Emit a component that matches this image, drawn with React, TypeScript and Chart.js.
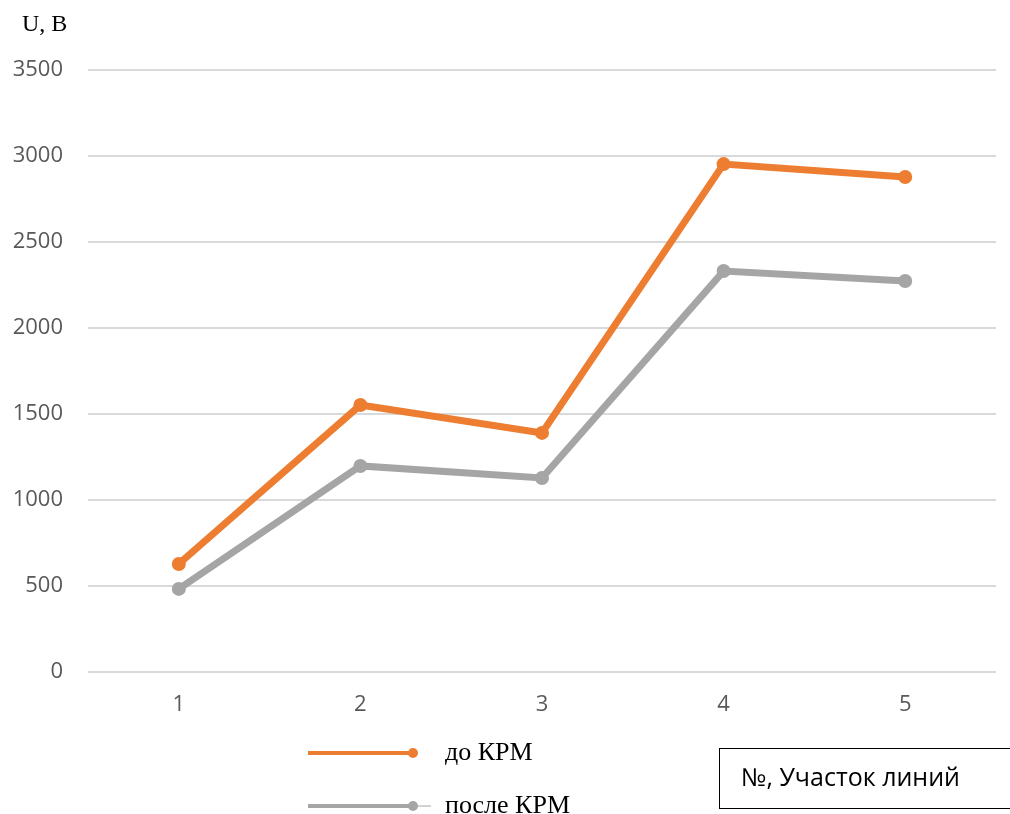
import React, { useEffect, useRef } from "react";
import { Chart, registerables } from "chart.js";

Chart.register(...registerables);

const sections = ["1", "2", "3", "4", "5"];
const beforeKRM = [628, 1552, 1390, 2953, 2878];
const afterKRM = [483, 1198, 1128, 2331, 2273];
const seriesNames = ["до КРМ", "после КРМ"];
const seriesColors = ["#ED7D31", "#A5A5A5"];
const yTitle = "U, B";
const xTitle = "№, Участок линий";

const W = 1010;
const H = 814;

const overlayPlugin = {
  id: "overlay",
  afterDraw(chart: any) {
    const ctx = chart.ctx as CanvasRenderingContext2D;
    ctx.save();
    // axis unit
    ctx.fillStyle = "#000";
    ctx.font = "24px 'Liberation Serif'";
    ctx.textBaseline = "middle";
    ctx.textAlign = "left";
    ctx.fillText(yTitle, 22, 25);

    // legend
    const rows = [753, 806];
    chart.data.datasets.forEach((ds: any, i: number) => {
      const y = rows[i];
      ctx.strokeStyle = ds.borderColor;
      ctx.lineWidth = 4;
      ctx.beginPath();
      ctx.moveTo(308, y);
      ctx.lineTo(413, y);
      ctx.stroke();
      if (i === 1) {
        ctx.lineWidth = 1;
        ctx.beginPath();
        ctx.moveTo(413, y);
        ctx.lineTo(431, y);
        ctx.stroke();
      }
      ctx.fillStyle = ds.borderColor;
      ctx.beginPath();
      ctx.arc(413, y, 5, 0, Math.PI * 2);
      ctx.fill();
      ctx.fillStyle = "#000";
      ctx.font = "26px 'Liberation Serif'";
      ctx.fillText(ds.label, 445, y);
    });

    // x-axis caption box
    ctx.strokeStyle = "#000";
    ctx.lineWidth = 1;
    ctx.strokeRect(719.5, 748.5, 300, 60);
    ctx.fillStyle = "#000";
    ctx.font = "25px 'Open Sans'";
    ctx.fillText(xTitle, 741, 779);
    ctx.restore();
  },
};

export default function App() {
  const ref = useRef<HTMLCanvasElement>(null);

  useEffect(() => {
    if (!ref.current) return;
    const chart = new Chart(ref.current, {
      type: "line",
      data: {
        labels: sections,
        datasets: [
          {
            label: seriesNames[0],
            data: beforeKRM,
            borderColor: seriesColors[0],
            backgroundColor: seriesColors[0],
            borderWidth: 7,
            pointRadius: 7,
            pointBorderWidth: 0,
            pointBackgroundColor: seriesColors[0],
            tension: 0,
          },
          {
            label: seriesNames[1],
            data: afterKRM,
            borderColor: seriesColors[1],
            backgroundColor: seriesColors[1],
            borderWidth: 7,
            pointRadius: 7,
            pointBorderWidth: 0,
            pointBackgroundColor: seriesColors[1],
            tension: 0,
          },
        ],
      },
      options: {
        responsive: false,
        animation: false,
        events: [],
        layout: { padding: { top: 70, right: 14, left: 0, bottom: 0 } },
        plugins: {
          legend: { display: false },
          tooltip: { enabled: false },
        },
        scales: {
          x: {
            offset: true,
            grid: { display: false, drawTicks: false },
            border: { display: false },
            ticks: {
              padding: 20,
              color: "#595959",
              font: { family: "'Open Sans'", size: 22 },
            },
            afterFit(scale: any) {
              scale.height = 142;
            },
          },
          y: {
            min: 0,
            max: 3500,
            grid: { color: "#D9D9D9", lineWidth: 2, drawTicks: false },
            border: { display: false },
            ticks: {
              stepSize: 500,
              padding: 25,
              color: "#595959",
              font: { family: "'Open Sans'", size: 22 },
              callback: (v: any) => String(v),
            },
            afterFit(scale: any) {
              scale.width = 88;
            },
          },
        },
      },
      plugins: [overlayPlugin],
    });
    return () => chart.destroy();
  }, []);

  return (
    <div style={{ position: "absolute", left: 0, top: 0, width: W, height: H, background: "#fff" }}>
      <canvas ref={ref} width={W} height={H} style={{ display: "block" }} />
    </div>
  );
}
